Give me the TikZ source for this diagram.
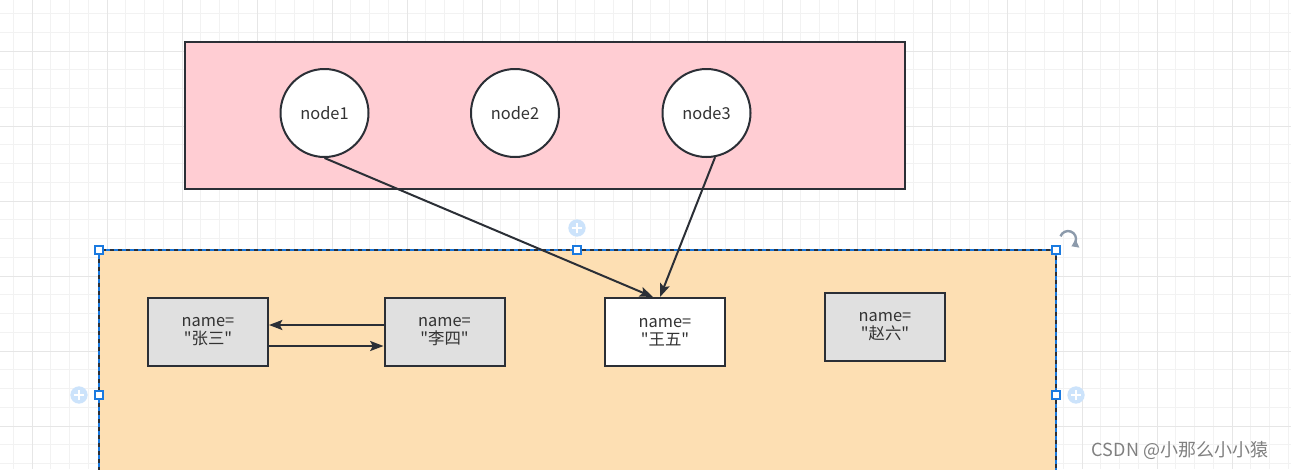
\documentclass[tikz,border=0pt]{standalone}
\usepackage{fontspec}
\setmainfont{Noto Sans CJK SC}[Ligatures=TeXOff]
\usetikzlibrary{arrows.meta}
\definecolor{strk}{HTML}{2B2F36}
\definecolor{pinkf}{HTML}{FFCDD3}
\definecolor{orangef}{HTML}{FDDFB3}
\definecolor{grayf}{HTML}{E0E0E0}
\definecolor{txt}{HTML}{333333}
\definecolor{gminor}{HTML}{F2F2F2}
\definecolor{gmajor}{HTML}{E6E6E6}
\definecolor{selblue}{HTML}{1A7AE0}
\definecolor{plusblue}{HTML}{CCE3FB}
\definecolor{rotgray}{HTML}{8C9AAB}
\tikzset{
  lbl/.style={font=\fontsize{12.3pt}{13.5pt}\selectfont, text=txt, align=center},
  circnode/.style={circle, draw=strk, line width=1.5pt, fill=white, minimum size=66pt, inner sep=0pt, lbl},
  objbox/.style={rectangle, draw=strk, line width=1.5pt, minimum width=90pt, minimum height=51pt, inner sep=0pt, lbl},
  arr/.style={draw=strk, line width=1.5pt, -{Stealth[length=10pt,width=7.5pt,inset=2pt]}},
  handle/.style={rectangle, draw=selblue, fill=white, line width=0.8pt, minimum size=6pt, inner sep=0pt},
  plus/.style={circle, fill=plusblue, minimum size=13pt, inner sep=0pt},
}
\begin{document}
\begin{tikzpicture}[x=0.75pt,y=-0.75pt]
\useasboundingbox (0,0) rectangle (1291,469);
\fill[white] (0,0) rectangle (1291,469);
% grid
\foreach \i in {-1,...,69} {
  \draw[gminor, line width=0.75pt] ({32+18.75*\i},0) -- ({32+18.75*\i},469);
}
\foreach \i in {-2,...,24} {
  \draw[gminor, line width=0.75pt] (0,{51+18.75*\i}) -- (1291,{51+18.75*\i});
}
\foreach \i in {0,...,17} {
  \draw[gmajor, line width=0.75pt] ({32+75*\i},0) -- ({32+75*\i},469);
}
\foreach \i in {-1,...,6} {
  \draw[gmajor, line width=0.75pt] (0,{51+75*\i}) -- (1291,{51+75*\i});
}
% pink container
\node[draw=strk, fill=pinkf, line width=1.5pt, minimum width=540pt, minimum height=110.25pt, inner sep=0pt] (pinkbox) at (545,115.5) {};
\node[circnode] (node1) at (324.5,113) {node1};
\node[circnode] (node2) at (515,113) {node2};
\node[circnode] (node3) at (706.5,113) {node3};
% orange container
\fill[orangef] (99,250) rectangle (1056,475);
\draw[strk, line width=1.5pt] (99,475) -- (99,250) -- (1056,250) -- (1056,475);
\draw[selblue, line width=1.2pt, dash pattern=on 3pt off 3pt] (99,475) -- (99,250) -- (1056,250) -- (1056,475);
\node[objbox, fill=grayf] (zs) at (208,332) {name=\\"张三"};
\node[objbox, fill=grayf] (ls) at (444.5,332) {name=\\"李四"};
\node[objbox, fill=white] (ww) at (665,332) {name=\\"王五"};
\node[objbox, fill=grayf] (zl) at (885,327) {name=\\"赵六"};
% connectors
\draw[arr] ([yshift=5.25pt]ls.west) -- ([yshift=5.25pt]zs.east);
\draw[arr] ([yshift=-10.5pt]zs.east) -- ([yshift=-10.5pt]ls.west);
\draw[arr] (node1.south) -- ([xshift=-9pt]ww.north);
\draw[arr] (node3.-79) -- ([xshift=-3.75pt]ww.north);
% selection handles
\node[handle] (h1) at (99,250) {};
\node[handle] (h2) at (577,250) {};
\node[handle] (h3) at (1056,250) {};
\node[handle] (h4) at (99,395) {};
\node[handle] (h5) at (1056,395) {};
\foreach \p/\n in {{577,228}/p1,{79,395}/p2,{1076,395}/p3} {
  \node[plus] (\n) at (\p) {};
  \draw[white, line width=1.1pt] ([xshift=-4pt]\n.center) -- ([xshift=4pt]\n.center);
  \draw[white, line width=1.1pt] ([yshift=-4pt]\n.center) -- ([yshift=4pt]\n.center);
}
% rotate icon
\draw[rotgray, line width=1.8pt, -{Triangle[length=5pt,width=6.5pt]}] (1060.5,236.3) arc[start angle=-160, end angle=65, radius=8];
% watermark
\node[font=\fontsize{13.5pt}{14pt}\selectfont, text=white] (wm2) at (1180.8,450.8) {CSDN @小那么小小猿};
\node[font=\fontsize{13.5pt}{14pt}\selectfont, text=black!50] (wm) at (1180,450) {CSDN @小那么小小猿};
\end{tikzpicture}
\end{document}
